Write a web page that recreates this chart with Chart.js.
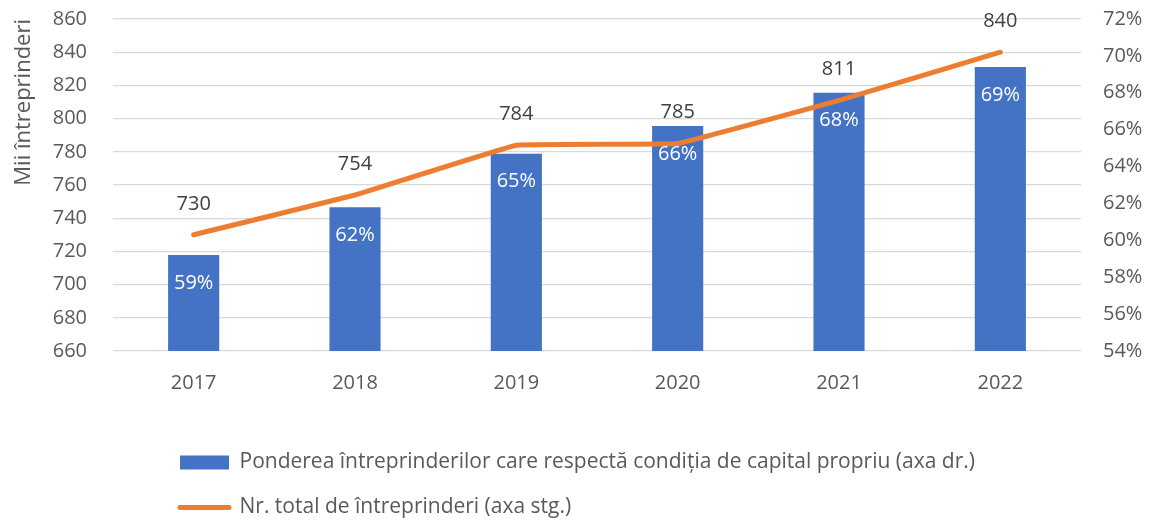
<!DOCTYPE html>
<html>
<head>
<meta charset="utf-8">
<script src="https://cdn.jsdelivr.net/npm/chart.js@4/dist/chart.umd.min.js"></script>
<style>
  html, body { margin: 0; padding: 0; background: #ffffff; }
  #wrap { width: 1153px; height: 522px; }
</style>
</head>
<body>
<div id="wrap"><canvas id="c" width="1153" height="522"></canvas></div>
<script>
const categories = ['2017', '2018', '2019', '2020', '2021', '2022'];
const shareValues = [59.2, 61.8, 64.7, 66.2, 68.0, 69.4];
const shareLabels = ['59%', '62%', '65%', '66%', '68%', '69%'];
const totalValues = [730, 754, 784, 785, 811, 840];
const leftTicks = { min: 660, max: 860, step: 20 };
const rightTicks = { min: 54, max: 72, step: 2 };
const seriesNames = [
  'Ponderea întreprinderilor care respectă condiția de capital propriu (axa dr.)',
  'Nr. total de întreprinderi (axa stg.)'
];

const FONT = "'Open Sans', 'DejaVu Sans', sans-serif";
const GREY = '#595959';

const labelPlugin = {
  id: 'valueLabels',
  afterDatasetsDraw(chart) {
    const ctx = chart.ctx;
    ctx.save();
    ctx.font = "20px " + FONT;
    ctx.textAlign = 'center';
    ctx.textBaseline = 'middle';
    const barMeta = chart.getDatasetMeta(0);
    barMeta.data.forEach((el, i) => {
      ctx.fillStyle = '#ffffff';
      ctx.fillText(shareLabels[i], el.x, el.y + 28);
    });
    const lineMeta = chart.getDatasetMeta(1);
    lineMeta.data.forEach((el, i) => {
      ctx.fillStyle = '#404040';
      ctx.fillText(String(totalValues[i]), el.x, el.y - 31);
    });
    ctx.restore();
  }
};

const legendPlacer = {
  id: 'legendPlacer',
  afterLayout(chart) {
    const lg = chart.legend;
    if (lg) {
      lg.left = 156;
      lg.top = 428;
    }
  }
};

function trimVertical(s, w) {
  s.width = w;
  s.paddingTop = 0;
  s.paddingBottom = 0;
}

new Chart(document.getElementById('c'), {
  type: 'bar',
  data: {
    labels: categories,
    datasets: [
      {
        type: 'bar',
        label: seriesNames[0],
        data: shareValues,
        yAxisID: 'y1',
        backgroundColor: '#4472C4',
        borderWidth: 0,
        barPercentage: 0.317,
        categoryPercentage: 1,
        order: 2
      },
      {
        type: 'line',
        label: seriesNames[1],
        data: totalValues,
        yAxisID: 'y',
        borderColor: '#ED7D31',
        backgroundColor: '#ED7D31',
        borderWidth: 5,
        borderCapStyle: 'round',
        borderJoinStyle: 'round',
        tension: 0.05,
        pointRadius: 0,
        fill: false,
        order: 1
      }
    ]
  },
  options: {
    responsive: false,
    animation: false,
    devicePixelRatio: 1,
    layout: { padding: { top: 19, left: 0, right: 0, bottom: 0 } },
    plugins: {
      tooltip: { enabled: false },
      legend: {
        display: true,
        position: 'bottom',
        align: 'start',
        labels: {
          font: { family: FONT, size: 21 },
          color: GREY,
          usePointStyle: true,
          pointStyleWidth: 49,
          boxHeight: 14,
          padding: 24,
          generateLabels(chart) {
            return [
              {
                text: seriesNames[0],
                fillStyle: '#4472C4',
                strokeStyle: '#4472C4',
                lineWidth: 0,
                pointStyle: 'rect',
                datasetIndex: 0,
                fontColor: GREY
              },
              {
                text: seriesNames[1],
                fillStyle: '#ED7D31',
                strokeStyle: '#ED7D31',
                lineWidth: 5,
                lineCap: 'round',
                pointStyle: 'line',
                datasetIndex: 1,
                fontColor: GREY
              }
            ];
          }
        }
      }
    },
    scales: {
      x: {
        grid: { display: false },
        border: { display: false },
        ticks: { font: { family: FONT, size: 20 }, color: GREY, padding: 12 },
        afterFit(s) { s.height = 71; }
      },
      y: {
        position: 'left',
        min: leftTicks.min,
        max: leftTicks.max,
        ticks: { stepSize: leftTicks.step, font: { family: FONT, size: 20 }, color: GREY, padding: 26 },
        grid: { color: '#D9D9D9', lineWidth: 1.3, drawTicks: false },
        border: { display: false },
        title: {
          display: true,
          text: 'Mii întreprinderi',
          align: 'end',
          color: GREY,
          font: { family: FONT, size: 22 },
          padding: { top: 11, bottom: 0 }
        },
        afterFit(s) { trimVertical(s, 113); }
      },
      y1: {
        position: 'right',
        min: rightTicks.min,
        max: rightTicks.max,
        ticks: {
          stepSize: rightTicks.step,
          font: { family: FONT, size: 20 },
          color: GREY,
          padding: 22,
          callback: (v) => v + '%'
        },
        grid: { display: false, drawTicks: false },
        border: { display: false },
        afterFit(s) { trimVertical(s, 72); }
      }
    }
  },
  plugins: [labelPlugin, legendPlacer]
});
</script>
</body>
</html>
